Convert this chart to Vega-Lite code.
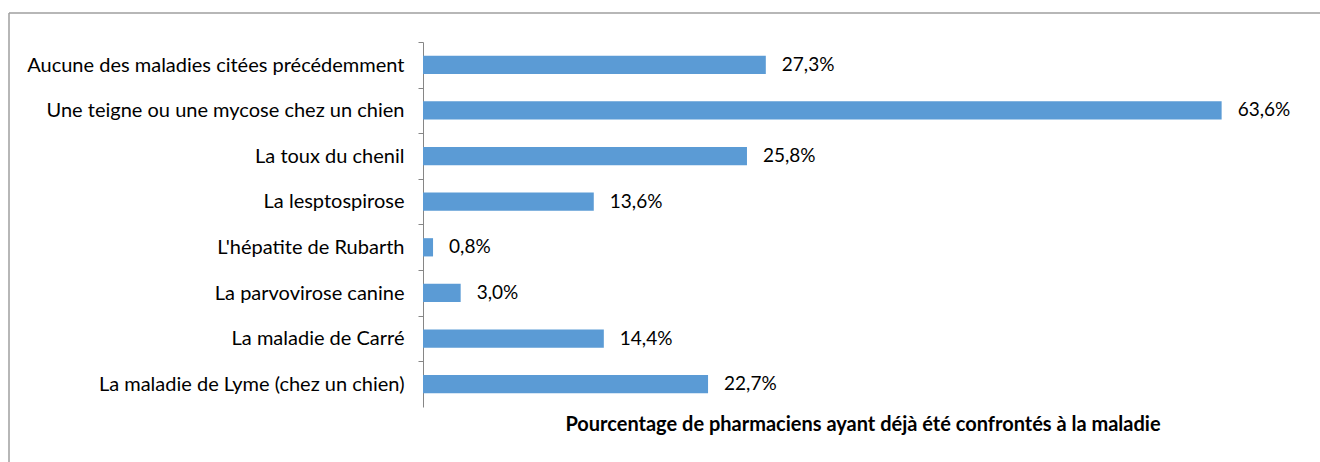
{
  "$schema": "https://vega.github.io/schema/vega-lite/v6.json",
  "usermeta": {"embedOptions": {"actions": false}},
  "autosize": {"type": "none"},
  "width": 1311,
  "height": 449,
  "padding": {"left": 9, "top": 13, "right": 0, "bottom": 0},
  "background": "white",
  "config": {
    "view": {"stroke": "#a0a0a0", "strokeWidth": 1.5, "strokeDash": [1311, 1760, 449, 0]},
    "locale": {"number": {"decimal": ",", "thousands": " ", "grouping": [3], "currency": ["", " €"]}},
    "font": "Lato"
  },
  "data": {
    "values": [
      {"maladie": "Aucune des maladies citées précédemment", "part": 0.273},
      {"maladie": "Une teigne ou une mycose chez un chien", "part": 0.636},
      {"maladie": "La toux du chenil", "part": 0.258},
      {"maladie": "La lesptospirose", "part": 0.136},
      {"maladie": "L'hépatite de Rubarth", "part": 0.008},
      {"maladie": "La parvovirose canine", "part": 0.030},
      {"maladie": "La maladie de Carré", "part": 0.144},
      {"maladie": "La maladie de Lyme (chez un chien)", "part": 0.227}
    ]
  },
  "encoding": {
    "y": {
      "field": "maladie",
      "type": "nominal",
      "sort": null,
      "scale": {"range": [29, 394], "paddingInner": 0.6, "paddingOuter": 0.3},
      "axis": {
        "title": null,
        "offset": -414,
        "domainColor": "#868686",
        "domainWidth": 1,
        "ticks": true,
        "tickColor": "#868686",
        "tickSize": 5,
        "tickWidth": 1,
        "tickOpacity": 1,
        "bandPosition": 0,
        "tickOffset": -13.7,
        "labelOffset": 14,
        "labelFontSize": 20,
        "labelColor": "#000000",
        "labelPadding": 14,
        "labelFont": "Lato",
        "labelLimit": 500,
        "grid": false
      }
    },
    "x": {
      "field": "part",
      "type": "quantitative",
      "scale": {"domain": [0, 0.7], "range": [414, 1293], "nice": false, "zero": true},
      "axis": {
        "title": "Pourcentage de pharmaciens ayant déjà été confrontés à la maladie",
        "offset": -48,
        "domain": false,
        "ticks": false,
        "labels": false,
        "grid": false,
        "titleFontSize": 20,
        "titleFontWeight": "bold",
        "titleColor": "#000000",
        "titlePadding": 0,
        "titleFont": "Lato"
      }
    }
  },
  "layer": [
    {"mark": {"type": "bar", "color": "#5B9BD5"}},
    {
      "mark": {"type": "text", "align": "left", "baseline": "middle", "dx": 16, "fontSize": 19, "color": "#000000", "font": "Lato"},
      "encoding": {"text": {"field": "part", "type": "quantitative", "format": ".1%"}}
    }
  ]
}
